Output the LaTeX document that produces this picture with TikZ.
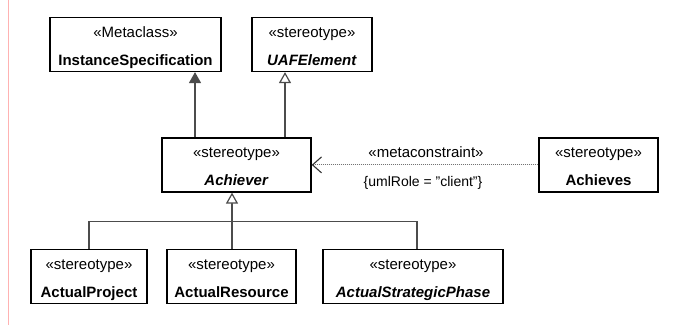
\documentclass[tikz,border=0pt]{standalone}
\usepackage{fontspec}
\setmainfont{Liberation Sans}
\usetikzlibrary{arrows.meta}
\newcommand\clsstrut{\rule[-6pt]{0pt}{26pt}}
\begin{document}
\begin{tikzpicture}[x=1pt, y=-1pt,
    cls/.style={draw, line width=1.4pt, align=center, inner sep=0pt,
        minimum height=52pt, font=\fontsize{15}{28}\selectfont},
    link/.style={draw=black!70, line width=1.2pt},
    gen/.style={link, -{Triangle[open, fill=white, length=11pt, width=12pt]}},
    ref/.style={link, -{Triangle[length=11pt, width=12pt]}},
    dep/.style={draw=black!55, line width=1.2pt, dash pattern=on 1.2pt off 0.8pt,
        -{Straight Barb[length=9pt, width=16pt, line width=1.1pt, black!80]}}]
    \fill[white] (0,0) rectangle (687,325);
    \draw[red!30, line width=0.8pt] (8,0) -- (8,325);

    % top row
    \node[cls, minimum width=171pt] (inst) at (135.5,44) {\clsstrut«Metaclass»\\\textbf{InstanceSpecification}\clsstrut};
    \node[cls, minimum width=120pt] (uaf) at (312,44) {\clsstrut«stereotype»\\\textbf{\itshape UAFElement}\clsstrut};

    % middle row
    \node[cls, minimum width=149pt, minimum height=51pt] (ach) at (236.5,164.5) {\clsstrut«stereotype»\\\textbf{\itshape Achiever}\clsstrut};
    \node[cls, minimum width=119pt, minimum height=51pt] (achs) at (598.5,164.5) {\clsstrut«stereotype»\\\textbf{Achieves}\clsstrut};

    % bottom row
    \node[cls, minimum width=116pt] (proj) at (89,276) {\clsstrut«stereotype»\\\textbf{ActualProject}\clsstrut};
    \node[cls, minimum width=129pt] (res) at (231.5,276) {\clsstrut«stereotype»\\\textbf{ActualResource}\clsstrut};
    \node[cls, minimum width=180pt] (phase) at (413,276) {\clsstrut«stereotype»\\\textbf{\itshape ActualStrategicPhase}\clsstrut};

    \coordinate (a1) at ([xshift=-41.5pt]ach.north);
    \coordinate (a2) at ([xshift=48.5pt]ach.north);
    \coordinate (joint) at (232,221);

    \draw[ref] (a1) -- (a1 |- inst.south);
    \draw[gen] (a2) -- (a2 |- uaf.south);

    \draw[gen] (joint |- res.north) -- (joint |- ach.south);
    \draw[link] (proj.north) |- (joint);
    \draw[link] ([xshift=4pt]phase.north) |- (joint);

    \draw[dep] (achs.west) -- (ach.east);
    \node[font=\fontsize{15}{18}\selectfont] (stereo) at (426,152) {«metaconstraint»};
    \node[font=\fontsize{14}{17}\selectfont] (role) at (423,182) {\{umlRole = \symbol{34}client\symbol{34}\}};
\end{tikzpicture}
\end{document}
